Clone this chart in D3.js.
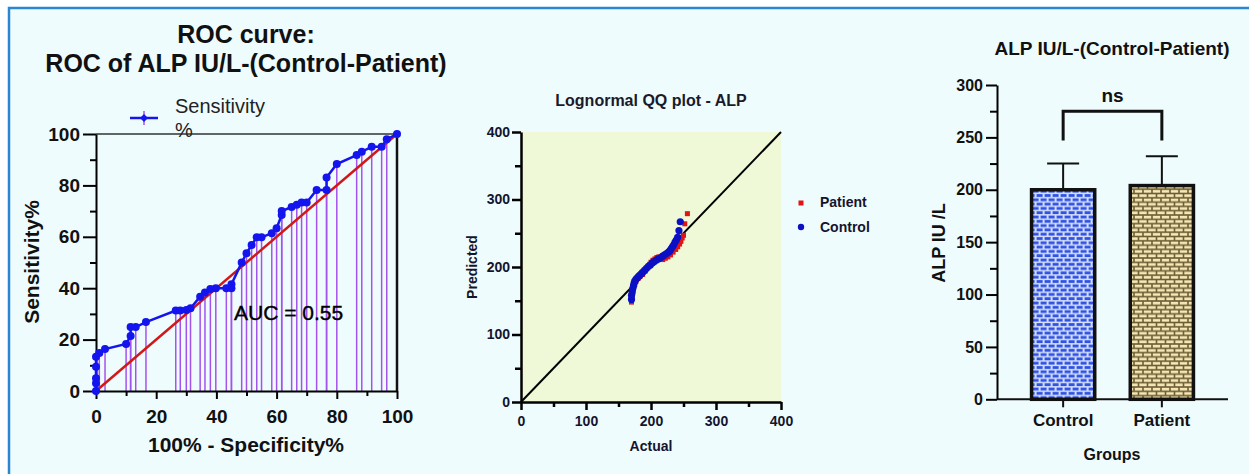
<!DOCTYPE html>
<html>
<head>
<meta charset="utf-8">
<script src="https://cdn.jsdelivr.net/npm/d3@7"></script>
<style>
  body { margin: 0; background: #fff; }
  svg { display: block; font-family: Arial, "Liberation Sans", sans-serif; }
</style>
</head>
<body>
<div id="chart"></div>
<script>
// ROC curve: 100% - specificity% and sensitivity%
const rocFpr = [0, 0, 0, 0, 0, 1.1, 3, 10, 11.5, 11.5, 13.2, 16.6, 26.5, 28, 30, 31.4,
  34.6, 36.2, 38, 39.8, 43.3, 45, 45, 48.4, 50, 51.7, 53.4, 55, 58.4, 60, 61.7, 61.7,
  65, 66.7, 68.3, 70, 73.3, 76.6, 76.6, 80, 86.6, 88.3, 91.6, 94.9, 96.6, 100];
const rocSens = [0, 3, 5, 9.4, 13.3, 14.8, 16.3, 18.3, 21.4, 24.9, 24.9, 26.8, 31.3, 31.3, 31.5, 32.2,
  36.7, 38.3, 39.7, 40, 40, 40, 41.5, 50, 53.6, 56.8, 59.8, 59.8, 61.4, 63.3, 68.5, 70,
  71.6, 72.5, 73.3, 73.3, 78.2, 78.2, 83.1, 88.3, 91.8, 93.1, 95, 95, 98, 100];
const rocTicks = [0, 20, 40, 60, 80, 100];

// lognormal QQ plot
const controlActual = [170, 170, 171, 172, 173, 174, 175, 177, 179, 181, 183, 185, 187, 190, 193,
  196, 199, 202, 205, 208, 211, 215, 218, 221, 224, 227, 229, 231, 233, 235, 237, 239, 241, 243, 245];
const controlPredicted = [152, 158, 163, 168, 172, 176, 179, 182, 184, 186, 188, 190, 192, 195, 198,
  201, 203, 206, 208, 210, 212, 214, 216, 218, 220, 222, 224, 227, 230, 233, 237, 240, 244, 254, 267];
const patientActual = [170, 171, 172, 173, 175, 177, 180, 183, 187, 191, 195, 198, 200, 203, 206,
  209, 212, 215, 218, 222, 226, 230, 234, 238, 241, 244, 246, 248, 250, 252, 256];
const patientPredicted = [148, 155, 162, 168, 174, 179, 183, 186, 189, 194, 199, 204, 207, 210, 212,
  214, 215, 212, 211, 213, 215, 218, 222, 226, 230, 234, 238, 243, 247, 264, 279];
const qqTicks = [0, 100, 200, 300, 400];

// bar chart: mean and SD
const groups = ["Control", "Patient"];
const groupMeans = [200, 204];
const groupSd = [25, 28];
const barTicks = [0, 50, 100, 150, 200, 250, 300];

const W = 1249, H = 474;

const svg = d3.select("#chart").append("svg")
  .attr("width", W)
  .attr("height", H);

// page frame
svg.append("rect").attr("width", W).attr("height", H).attr("fill", "#fff");
svg.append("rect")
  .attr("x", 9).attr("y", 8)
  .attr("width", W + 20).attr("height", H + 20)
  .attr("fill", "#effcfd")
  .attr("stroke", "#2a86d4")
  .attr("stroke-width", 2.5);

const defs = svg.append("defs");

// brick fills for the bars
const blueBrick = defs.append("pattern")
  .attr("id", "brickBlue")
  .attr("patternUnits", "userSpaceOnUse")
  .attr("width", 8).attr("height", 8.6);
blueBrick.append("rect").attr("width", 8).attr("height", 8.6).attr("fill", "#d3ddfb");
blueBrick.append("rect").attr("x", 0.6).attr("y", 0.6).attr("width", 6).attr("height", 2.8).attr("fill", "#2f52e2");
blueBrick.append("rect").attr("x", -3.4).attr("y", 4.9).attr("width", 6).attr("height", 2.8).attr("fill", "#2f52e2");
blueBrick.append("rect").attr("x", 4.6).attr("y", 4.9).attr("width", 6).attr("height", 2.8).attr("fill", "#2f52e2");

const tanBrick = defs.append("pattern")
  .attr("id", "brickTan")
  .attr("patternUnits", "userSpaceOnUse")
  .attr("width", 9).attr("height", 8.6);
tanBrick.append("rect").attr("width", 9).attr("height", 8.6).attr("fill", "#6f5d35");
tanBrick.append("rect").attr("x", 0.8).attr("y", 0.8).attr("width", 7.4).attr("height", 2.7).attr("fill", "#f4e8b6");
tanBrick.append("rect").attr("x", -3.7).attr("y", 5.1).attr("width", 7.4).attr("height", 2.7).attr("fill", "#f4e8b6");
tanBrick.append("rect").attr("x", 5.3).attr("y", 5.1).attr("width", 7.4).attr("height", 2.7).attr("fill", "#f4e8b6");

// helper: axis with labelled major ticks plus unlabelled minor ticks
function drawAxis(g, axisFn, scale, major, minor, opts) {
  g.append("g")
    .call(axisFn(scale).tickValues(minor).tickSize(opts.minorSize).tickFormat(""))
    .call(a => a.select(".domain").remove())
    .selectAll("line").attr("stroke", "#000").attr("stroke-width", opts.width);
  const ax = g.append("g")
    .call(axisFn(scale).tickValues(major).tickSize(opts.majorSize)
      .tickSizeOuter(0).tickPadding(opts.padding));
  ax.select(".domain").attr("stroke", "#000").attr("stroke-width", opts.width);
  ax.selectAll("line").attr("stroke", "#000").attr("stroke-width", opts.width);
  ax.selectAll("text")
    .attr("font-family", "Arial, 'Liberation Sans', sans-serif")
    .attr("font-size", opts.fontSize)
    .attr("font-weight", "bold")
    .attr("fill", opts.color || "#111");
  return ax;
}

// ---------------- ROC curve ----------------
function drawRoc() {
  const x = d3.scaleLinear().domain([0, 100]).range([96, 397]);
  const y = d3.scaleLinear().domain([0, 100]).range([391, 134]);
  const g = svg.append("g");
  const pts = rocFpr.map((v, i) => ({ fpr: v, sens: rocSens[i] }));

  g.append("text").attr("x", 246).attr("y", 43).attr("text-anchor", "middle")
    .attr("font-size", 25).attr("font-weight", "bold").attr("fill", "#111")
    .text("ROC curve:");
  g.append("text").attr("x", 246).attr("y", 72).attr("text-anchor", "middle")
    .attr("font-size", 25).attr("font-weight", "bold").attr("fill", "#111")
    .text("ROC of ALP IU/L-(Control-Patient)");

  // drop lines from each point to the axis
  g.append("g").selectAll("line")
    .data(pts)
    .join("line")
    .attr("x1", d => x(d.fpr)).attr("x2", d => x(d.fpr))
    .attr("y1", d => y(d.sens)).attr("y2", y(0))
    .attr("stroke", "#a452ee")
    .attr("stroke-width", 1.5);

  // chance line
  g.append("line")
    .attr("x1", x(0)).attr("y1", y(0)).attr("x2", x(100)).attr("y2", y(100))
    .attr("stroke", "#d01818").attr("stroke-width", 2.5);

  // frame top and right
  g.append("line").attr("x1", x(0)).attr("x2", x(100)).attr("y1", y(100)).attr("y2", y(100))
    .attr("stroke", "#333").attr("stroke-width", 1.5);
  g.append("line").attr("x1", x(100)).attr("x2", x(100)).attr("y1", y(100)).attr("y2", y(0))
    .attr("stroke", "#111").attr("stroke-width", 2.5);

  const yAx = g.append("g").attr("transform", `translate(${x(0)},0)`);
  drawAxis(yAx, d3.axisLeft, y, rocTicks, [10, 30, 50, 70, 90],
    { majorSize: 13, minorSize: 6, padding: 3, width: 2, fontSize: 19 });
  const xAx = g.append("g").attr("transform", `translate(0,${y(0)})`);
  drawAxis(xAx, d3.axisBottom, x, rocTicks, [10, 30, 50, 70, 90],
    { majorSize: 8, minorSize: 5, padding: 11, width: 2, fontSize: 19 });

  // sensitivity curve
  g.append("path")
    .datum(pts)
    .attr("fill", "none")
    .attr("stroke", "#1414ee")
    .attr("stroke-width", 2.5)
    .attr("d", d3.line().x(d => x(d.fpr)).y(d => y(d.sens)));
  g.append("g").selectAll("circle")
    .data(pts)
    .join("circle")
    .attr("cx", d => x(d.fpr)).attr("cy", d => y(d.sens))
    .attr("r", 4)
    .attr("fill", "#1414ee");

  g.append("text").attr("x", 234).attr("y", 320)
    .attr("font-size", 21).attr("fill", "#000")
    .attr("stroke", "#000").attr("stroke-width", 0.4)
    .text("AUC = 0.55");

  // legend
  g.append("line").attr("x1", 144).attr("x2", 144).attr("y1", 111).attr("y2", 125)
    .attr("stroke", "#a452ee").attr("stroke-width", 1.5);
  g.append("line").attr("x1", 130).attr("x2", 158).attr("y1", 118).attr("y2", 118)
    .attr("stroke", "#1414ee").attr("stroke-width", 2.5);
  g.append("path").attr("d", d3.symbol(d3.symbolDiamond2, 40)())
    .attr("transform", "translate(144,118)").attr("fill", "#1414ee");
  g.append("text").attr("x", 175).attr("y", 113).attr("font-size", 20).attr("fill", "#222")
    .text("Sensitivity");
  g.append("text").attr("x", 175).attr("y", 137).attr("font-size", 20).attr("fill", "#222")
    .text("%");

  g.append("text").attr("x", 246).attr("y", 452).attr("text-anchor", "middle")
    .attr("font-size", 21).attr("font-weight", "bold").attr("fill", "#111")
    .text("100% - Specificity%");
  g.append("text").attr("transform", "translate(39,262) rotate(-90)")
    .attr("text-anchor", "middle")
    .attr("font-size", 21).attr("font-weight", "bold").attr("fill", "#111")
    .text("Sensitivity%");
}

// ---------------- QQ plot ----------------
function drawQq() {
  const x = d3.scaleLinear().domain([0, 400]).range([521, 781]);
  const y = d3.scaleLinear().domain([0, 400]).range([402, 132]);
  const g = svg.append("g");

  g.append("rect")
    .attr("x", x(0)).attr("y", y(400))
    .attr("width", x(400) - x(0)).attr("height", y(0) - y(400))
    .attr("fill", "#eff9d8");

  g.append("text").attr("x", 651).attr("y", 106).attr("text-anchor", "middle")
    .attr("font-size", 16).attr("font-weight", "bold").attr("fill", "#1a1a2a")
    .text("Lognormal QQ plot - ALP");

  g.append("line")
    .attr("x1", x(0)).attr("y1", y(0)).attr("x2", x(400)).attr("y2", y(400))
    .attr("stroke", "#000").attr("stroke-width", 2);

  const yAx = g.append("g").attr("transform", `translate(${x(0)},0)`);
  drawAxis(yAx, d3.axisLeft, y, qqTicks, [50, 150, 250, 350],
    { majorSize: 9, minorSize: 6, padding: 2, width: 2.5, fontSize: 14, color: "#14142e" });
  const xAx = g.append("g").attr("transform", `translate(0,${y(0)})`);
  drawAxis(xAx, d3.axisBottom, x, qqTicks, [50, 150, 250, 350],
    { majorSize: 8, minorSize: 5, padding: 6, width: 2.5, fontSize: 14, color: "#14142e" });

  const control = controlActual.map((v, i) => ({ a: v, p: controlPredicted[i] }));
  const patient = patientActual.map((v, i) => ({ a: v, p: patientPredicted[i] }));

  g.append("g").selectAll("rect")
    .data(patient)
    .join("rect")
    .attr("x", d => x(d.a) - 2.5).attr("y", d => y(d.p) - 2.5)
    .attr("width", 5).attr("height", 5)
    .attr("fill", "#e01414");
  g.append("g").selectAll("circle")
    .data(control)
    .join("circle")
    .attr("cx", d => x(d.a)).attr("cy", d => y(d.p))
    .attr("r", 3.6)
    .attr("fill", "#0c10c4");

  // legend
  g.append("rect").attr("x", 798.5).attr("y", 200.5).attr("width", 5).attr("height", 5).attr("fill", "#e01414");
  g.append("text").attr("x", 820).attr("y", 207).attr("font-size", 14).attr("font-weight", "bold")
    .attr("fill", "#14142e").text("Patient");
  g.append("circle").attr("cx", 801).attr("cy", 227).attr("r", 3.2).attr("fill", "#0c10c4");
  g.append("text").attr("x", 820).attr("y", 231.5).attr("font-size", 14).attr("font-weight", "bold")
    .attr("fill", "#14142e").text("Control");

  g.append("text").attr("x", 651).attr("y", 451).attr("text-anchor", "middle")
    .attr("font-size", 14).attr("font-weight", "bold").attr("fill", "#14142e")
    .text("Actual");
  g.append("text").attr("transform", "translate(477,267) rotate(-90)")
    .attr("text-anchor", "middle")
    .attr("font-size", 14).attr("font-weight", "bold").attr("fill", "#14142e")
    .text("Predicted");
}

// ---------------- bar chart ----------------
function drawBars() {
  const x = d3.scaleBand().domain(groups).range([997, 1228])
    .paddingInner(0.36).paddingOuter(0.35);
  const y = d3.scaleLinear().domain([0, 300]).range([399.3, 85]);
  const g = svg.append("g");
  const fills = ["url(#brickBlue)", "url(#brickTan)"];

  g.append("text").attr("x", 1112).attr("y", 55).attr("text-anchor", "middle")
    .attr("font-size", 19).attr("font-weight", "bold").attr("fill", "#111")
    .text("ALP IU/L-(Control-Patient)");

  const data = groups.map((d, i) => ({ group: d, mean: groupMeans[i], sd: groupSd[i], fill: fills[i] }));

  // error bars (upper SD only)
  g.append("g").selectAll("line")
    .data(data)
    .join("line")
    .attr("x1", d => x(d.group) + x.bandwidth() / 2)
    .attr("x2", d => x(d.group) + x.bandwidth() / 2)
    .attr("y1", d => y(d.mean)).attr("y2", d => y(d.mean + d.sd))
    .attr("stroke", "#111").attr("stroke-width", 2);
  g.append("g").selectAll("line")
    .data(data)
    .join("line")
    .attr("x1", d => x(d.group) + x.bandwidth() / 2 - 16)
    .attr("x2", d => x(d.group) + x.bandwidth() / 2 + 16)
    .attr("y1", d => y(d.mean + d.sd)).attr("y2", d => y(d.mean + d.sd))
    .attr("stroke", "#111").attr("stroke-width", 2);

  g.append("g").selectAll("rect")
    .data(data)
    .join("rect")
    .attr("x", d => x(d.group))
    .attr("y", d => y(d.mean))
    .attr("width", x.bandwidth())
    .attr("height", d => y(0) - y(d.mean))
    .attr("fill", d => d.fill)
    .attr("stroke", "#111")
    .attr("stroke-width", 3.5);

  const yAx = g.append("g").attr("transform", "translate(997,0)");
  drawAxis(yAx, d3.axisLeft, y, barTicks, [25, 75, 125, 175, 225, 275],
    { majorSize: 11, minorSize: 7, padding: 3, width: 2, fontSize: 16 });
  const xAx = g.append("g").attr("transform", `translate(0,${y(0)})`);
  const bx = xAx.call(d3.axisBottom(x).tickSize(8).tickSizeOuter(0).tickPadding(7));
  bx.select(".domain").attr("stroke", "#111").attr("stroke-width", 2)
    .attr("d", "M997,0H1228");
  bx.selectAll("line").attr("stroke", "#111").attr("stroke-width", 2);
  bx.selectAll("text").attr("font-size", 17).attr("font-weight", "bold")
    .attr("font-family", "Arial, 'Liberation Sans', sans-serif").attr("fill", "#111");

  // significance bracket
  const cx0 = x(groups[0]) + x.bandwidth() / 2;
  const cx1 = x(groups[1]) + x.bandwidth() / 2;
  g.append("path")
    .attr("d", `M${cx0},${y(247)}V${y(275)}H${cx1}V${y(247)}`)
    .attr("fill", "none").attr("stroke", "#111").attr("stroke-width", 3);
  g.append("text").attr("x", (cx0 + cx1) / 2).attr("y", 102).attr("text-anchor", "middle")
    .attr("font-size", 19).attr("font-weight", "bold").attr("fill", "#111")
    .text("ns");

  g.append("text").attr("x", 1112).attr("y", 460).attr("text-anchor", "middle")
    .attr("font-size", 16).attr("font-weight", "bold").attr("fill", "#111")
    .text("Groups");
  g.append("text").attr("transform", "translate(945,243) rotate(-90)")
    .attr("text-anchor", "middle")
    .attr("font-size", 18).attr("font-weight", "bold").attr("fill", "#111")
    .text("ALP IU /L");
}

drawRoc();
drawQq();
drawBars();
</script>
</body>
</html>
